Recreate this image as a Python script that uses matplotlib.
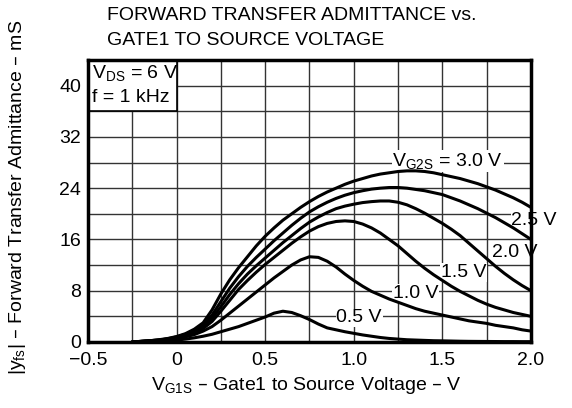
import matplotlib
matplotlib.use("Agg")
import matplotlib.pyplot as plt
from matplotlib.patches import Rectangle

plt.rcParams["font.family"] = ["Liberation Sans", "DejaVu Sans"]
plt.rcParams["mathtext.default"] = "regular"

# gate1-source voltage (V)
vg1s = [-0.25, -0.2, -0.15, -0.1, -0.05, 0.0, 0.05, 0.1, 0.15, 0.2,
        0.25, 0.3, 0.35, 0.4, 0.45, 0.5, 0.55, 0.6, 0.65, 0.7,
        0.75, 0.8, 0.85, 0.9, 0.95, 1.0, 1.05, 1.1, 1.15, 1.2,
        1.25, 1.3, 1.35, 1.4, 1.45, 1.5, 1.55, 1.6, 1.65, 1.7,
        1.75, 1.8, 1.85, 1.9, 1.95, 2.0]

# |yfs| in mS for each VG2S
yfs_30 = [0, 0.1, 0.2, 0.35, 0.55, 0.85, 1.3, 2.0, 3.0, 5.0,
          7.5, 9.7, 11.6, 13.3, 15.0, 16.5, 17.8, 19.0, 20.0, 21.0,
          21.9, 22.7, 23.4, 24.0, 24.6, 25.1, 25.5, 25.9, 26.2, 26.4,
          26.6, 26.7, 26.7, 26.6, 26.4, 26.1, 25.8, 25.5, 25.1, 24.7,
          24.2, 23.7, 23.1, 22.5, 21.8, 21.0]
yfs_25 = [0, 0.1, 0.2, 0.3, 0.5, 0.8, 1.2, 1.8, 2.7, 4.2,
          6.3, 8.4, 10.2, 11.8, 13.2, 14.5, 15.8, 17.0, 18.2, 19.3,
          20.3, 21.1, 21.8, 22.4, 22.9, 23.3, 23.6, 23.85, 24.0, 24.1,
          24.1, 24.0, 23.8, 23.6, 23.3, 23.0, 22.5, 22.0, 21.4, 20.8,
          20.1, 19.4, 18.6, 17.8, 16.9, 16.0]
yfs_20 = [0, 0.1, 0.2, 0.3, 0.45, 0.7, 1.1, 1.6, 2.4, 3.7,
          5.5, 7.4, 9.1, 10.6, 11.9, 13.1, 14.3, 15.5, 16.6, 17.7,
          18.7, 19.5, 20.2, 20.8, 21.2, 21.5, 21.75, 21.9, 22.0, 22.0,
          21.8, 21.4, 20.8, 20.1, 19.3, 18.5, 17.6, 16.6, 15.4, 14.2,
          13.0, 11.8, 10.7, 9.7, 8.8, 8.0]
yfs_15 = [0, 0.08, 0.15, 0.25, 0.4, 0.6, 0.95, 1.4, 2.1, 3.2,
          4.8, 6.5, 8.2, 9.6, 10.9, 12.1, 13.2, 14.3, 15.4, 16.4,
          17.3, 18.0, 18.5, 18.8, 18.9, 18.8, 18.4, 17.8, 17.0, 16.0,
          15.0, 13.8, 12.6, 11.5, 10.5, 9.6, 8.7, 7.9, 7.2, 6.5,
          5.9, 5.4, 5.0, 4.6, 4.3, 4.0]
yfs_10 = [0, 0.06, 0.12, 0.2, 0.32, 0.5, 0.8, 1.15, 1.7, 2.4,
          3.4, 4.5, 5.6, 6.7, 7.8, 8.9, 10.0, 11.0, 12.0, 12.8,
          13.3, 13.2, 12.6, 11.7, 10.6, 9.6, 8.7, 7.9, 7.3, 6.7,
          6.2, 5.7, 5.2, 4.8, 4.5, 4.2, 3.9, 3.6, 3.3, 3.1,
          2.9, 2.6, 2.4, 2.2, 1.9, 1.7]
yfs_05 = [0, 0.04, 0.08, 0.13, 0.2, 0.3, 0.45, 0.65, 0.9, 1.2,
          1.6, 2.0, 2.4, 2.9, 3.4, 3.9, 4.5, 4.8, 4.6, 4.1,
          3.5, 2.8, 2.2, 1.9, 1.6, 1.35, 1.1, 0.9, 0.7, 0.55,
          0.45, 0.35, 0.3, 0.25, 0.2, 0.18, 0.15, 0.12, 0.1, 0.09,
          0.08, 0.07, 0.06, 0.06, 0.05, 0.05]

curves = [yfs_30, yfs_25, yfs_20, yfs_15, yfs_10, yfs_05]

# curve labels: text, x, y, alignment
labels = [(r"V$_{G2S}$ = 3.0 V", 1.53, 28.2, "center"),
          ("2.5 V", 1.89, 19.0, "left"),
          ("2.0 V", 1.78, 13.9, "left"),
          ("1.5 V", 1.62, 10.8, "center"),
          ("1.0 V", 1.35, 7.6, "center"),
          ("0.5 V", 1.03, 3.75, "center")]

xticks = [-0.5, 0, 0.5, 1.0, 1.5, 2.0]
xticklabels = ["\u22120.5", "0", "0.5", "1.0", "1.5", "2.0"]
yticks = [0, 8, 16, 24, 32, 40]

fig = plt.figure(figsize=(5.72, 4.08), dpi=100)
ax = fig.add_axes([0.1538, 0.1618, 0.7745, 0.6912])

for yv in curves:
    ax.plot(vg1s, yv, color="black", lw=2.2, solid_joinstyle="round",
            solid_capstyle="round", zorder=4, clip_on=False)

ax.set_xlim(-0.5, 2.0)
ax.set_ylim(0, 44)
ax.set_xticks(xticks)
ax.set_xticklabels(xticklabels)
ax.set_yticks(yticks)
ax.set_xticks([-0.25 + 0.5 * i for i in range(5)], minor=True)
ax.set_yticks([4 + 8 * i for i in range(5)], minor=True)
ax.grid(True, which="both", color="0.2", lw=1.0, zorder=1)
ax.set_axisbelow(True)
ax.tick_params(which="both", length=0, labelsize=14, pad=5)
ax.tick_params(axis="x", pad=7)
for s in ax.spines.values():
    s.set_linewidth(2.5)
    s.set_zorder(6)

# condition box
ax.add_patch(Rectangle((-0.5, 36), 0.5, 8, facecolor="white",
                       edgecolor="black", lw=1.2, zorder=3))
ax.text(-0.475, 42.0, r"V$_{DS}$ = 6 V", fontsize=14, va="center", zorder=5)
ax.text(-0.475, 38.1, "f = 1 kHz", fontsize=14, va="center", zorder=5)

for txt, lx, ly, ha in labels:
    ax.text(lx, ly, txt, fontsize=14, ha=ha, va="center", zorder=3,
            clip_on=False,
            bbox=dict(facecolor="white", edgecolor="none", pad=0.5))

fig.text(0.187, 0.963, "FORWARD TRANSFER ADMITTANCE vs.", fontsize=14,
         va="center", ha="left")
fig.text(0.187, 0.900, "GATE1 TO SOURCE VOLTAGE", fontsize=14,
         va="center", ha="left")
fig.text(0.03, 0.515, r"|y$_{fs}$| – Forward Transfer Admittance – mS",
         rotation=90, fontsize=14, ha="center", va="center")
fig.text(0.535, 0.055, r"V$_{G1S}$ – Gate1 to Source Voltage – V",
         fontsize=14, ha="center", va="center")

fig.savefig("out.png", dpi=100, facecolor="white")
